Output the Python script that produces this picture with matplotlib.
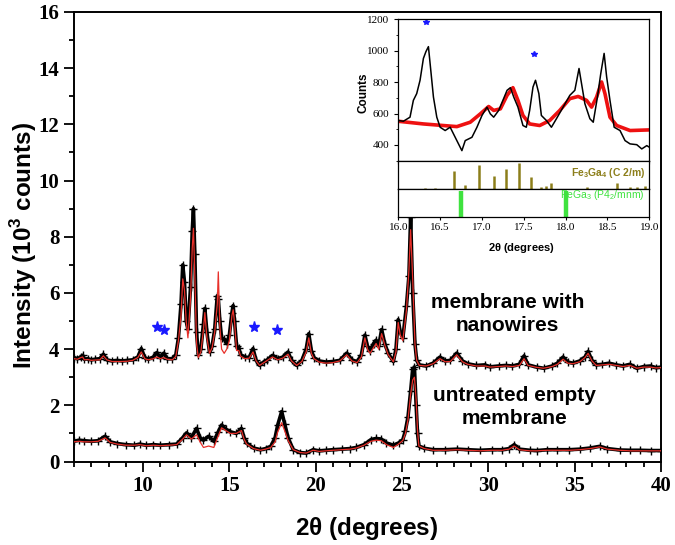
import numpy as np
import matplotlib
matplotlib.use('Agg')
import matplotlib.pyplot as plt
from matplotlib.ticker import MultipleLocator, FormatStrFormatter

# main pattern: membrane with nanowires (obs / fit), 10^3 counts
two_theta_nw = [6.0, 6.2, 6.4, 6.5, 6.6, 6.8, 7.0, 7.2, 7.5, 7.7, 7.9, 8.2, 8.5, 8.8, 9.1, 9.4, 9.7, 9.9,
                10.1, 10.3, 10.6, 10.8, 11.0, 11.2, 11.4, 11.7, 11.9, 12.05, 12.2, 12.3, 12.4, 12.5, 12.6,
                12.75, 12.85, 12.92, 13.0, 13.1, 13.2, 13.35, 13.5, 13.58, 13.7, 13.85, 14.0, 14.15, 14.3,
                14.36, 14.45, 14.55, 14.7, 14.85, 15.0, 15.15, 15.22, 15.3, 15.42, 15.55, 15.65, 15.9,
                16.15, 16.37, 16.55, 16.75, 17.0, 17.2, 17.5, 17.8, 18.1, 18.4, 18.6, 18.9, 19.2, 19.45,
                19.6, 19.75, 19.9, 20.2, 20.6, 21.0, 21.4, 21.8, 22.1, 22.4, 22.65, 22.85, 23.0, 23.15,
                23.35, 23.5, 23.65, 23.82, 24.0, 24.2, 24.5, 24.65, 24.78, 24.9, 25.05, 25.26, 25.4, 25.5,
                25.62, 25.75, 25.85, 26.0, 26.4, 26.8, 27.2, 27.5, 27.8, 28.17, 28.5, 28.8, 29.3, 29.8,
                30.1, 30.6, 31.0, 31.4, 31.8, 32.07, 32.3, 32.8, 33.2, 33.7, 34.0, 34.33, 34.6, 34.9,
                35.3, 35.6, 35.78, 36.0, 36.25, 36.6, 37.0, 37.4, 37.8, 38.2, 38.6, 39.0, 39.4, 39.7, 40.0]
obs_nw = [3.70, 3.66, 3.72, 3.78, 3.64, 3.66, 3.62, 3.64, 3.66, 3.82, 3.62, 3.58, 3.60, 3.58, 3.60, 3.62, 3.72, 4.02,
          3.70, 3.64, 3.72, 3.88, 3.70, 3.86, 3.66, 3.66, 3.80, 4.40, 5.60, 7.00, 6.40, 5.00, 4.70,
          6.20, 8.20, 9.00, 7.40, 4.60, 3.80, 4.00, 4.90, 5.45, 4.60, 3.90, 4.10, 4.70, 5.90,
          5.80, 5.00, 4.40, 4.35, 4.20, 4.50, 5.30, 5.55, 5.00, 4.10, 4.05, 3.80, 3.72,
          3.70, 4.02, 3.60, 3.42, 3.55, 3.62, 3.78, 3.66, 3.72, 3.90, 3.60, 3.42, 3.60, 4.00,
          4.55, 3.95, 3.70, 3.58, 3.54, 3.56, 3.60, 3.86, 3.62, 3.55, 3.80, 4.50, 4.10, 3.92,
          4.20, 4.32, 4.10, 4.70, 4.20, 3.85, 3.56, 4.00, 5.05, 4.60, 4.40, 5.55, 6.60, 8.70,
          6.00, 4.20, 3.60, 3.44, 3.40, 3.50, 3.72, 3.58, 3.60, 3.86, 3.58, 3.48, 3.42, 3.44,
          3.37, 3.40, 3.42, 3.40, 3.46, 3.76, 3.44, 3.36, 3.32, 3.40, 3.50, 3.72, 3.54, 3.50,
          3.58, 3.72, 3.92, 3.60, 3.44, 3.46, 3.50, 3.44, 3.40, 3.46, 3.32, 3.38, 3.40, 3.34, 3.36]
fit_nw = [3.66, 3.64, 3.70, 3.72, 3.62, 3.63, 3.60, 3.61, 3.62, 3.76, 3.62, 3.56, 3.56, 3.56, 3.57, 3.60, 3.70, 3.90,
          3.66, 3.62, 3.66, 3.72, 3.66, 3.70, 3.64, 3.62, 3.74, 4.30, 5.20, 6.50, 6.10, 5.00, 4.40,
          5.80, 7.60, 8.30, 6.60, 4.20, 3.70, 3.90, 4.70, 5.30, 4.40, 3.85, 4.05, 4.60, 5.60,
          6.75, 4.80, 4.00, 3.85, 4.00, 4.30, 5.20, 5.40, 4.95, 3.95, 3.95, 3.75, 3.66,
          3.68, 3.90, 3.58, 3.42, 3.52, 3.60, 3.72, 3.62, 3.68, 3.82, 3.58, 3.42, 3.56, 3.90,
          4.40, 3.85, 3.66, 3.54, 3.50, 3.52, 3.58, 3.80, 3.58, 3.52, 3.72, 4.40, 4.00, 3.85,
          4.05, 4.20, 4.00, 4.55, 4.15, 3.80, 3.55, 3.90, 4.95, 4.50, 4.30, 5.40, 6.80, 8.25,
          6.50, 4.20, 3.60, 3.42, 3.40, 3.48, 3.66, 3.55, 3.56, 3.80, 3.55, 3.46, 3.40, 3.40,
          3.36, 3.38, 3.40, 3.38, 3.42, 3.66, 3.42, 3.35, 3.32, 3.38, 3.46, 3.64, 3.50, 3.48,
          3.55, 3.70, 3.85, 3.58, 3.42, 3.44, 3.46, 3.42, 3.38, 3.42, 3.32, 3.36, 3.36, 3.33, 3.34]

# main pattern: untreated empty membrane (obs / fit)
two_theta_em = [6.0, 6.3, 6.6, 7.0, 7.4, 7.8, 8.1, 8.5, 9.0, 9.5, 9.8, 10.2, 10.6, 11.0, 11.5, 11.95,
                12.3, 12.52, 12.8, 13.1, 13.3, 13.5, 13.8, 14.1, 14.35, 14.55, 14.8, 15.05, 15.4, 15.7,
                15.85, 16.0, 16.4, 16.8, 17.1, 17.4, 17.65, 17.8, 18.03, 18.2, 18.4, 18.7, 19.1, 19.45,
                19.85, 20.2, 20.6, 21.0, 21.5, 22.0, 22.35, 22.8, 23.2, 23.5, 23.8, 24.1, 24.5, 24.8,
                25.05, 25.2, 25.35, 25.5, 25.62, 25.72, 25.82, 25.9, 25.98, 26.3, 26.8, 27.5, 28.2,
                28.8, 29.5, 30.2, 30.8, 31.2, 31.5, 31.8, 32.4, 32.8, 33.4, 34.0, 34.7, 35.3, 35.9,
                36.45, 36.9, 37.6, 38.2, 38.8, 39.4, 40.0]
obs_em = [0.72, 0.76, 0.74, 0.72, 0.74, 0.90, 0.70, 0.64, 0.60, 0.58, 0.62, 0.58, 0.60, 0.58, 0.60, 0.62,
          0.85, 1.02, 0.85, 1.18, 0.85, 0.76, 0.90, 0.72, 1.05, 1.30, 1.15, 1.06, 1.00, 1.18,
          0.85, 0.65, 0.48, 0.42, 0.46, 0.54, 0.85, 1.30, 1.78, 1.35, 0.85, 0.42, 0.32, 0.30,
          0.42, 0.38, 0.40, 0.42, 0.44, 0.46, 0.50, 0.60, 0.78, 0.82, 0.80, 0.66, 0.58, 0.66,
          0.78, 1.10, 1.60, 2.50, 3.30, 3.35, 2.00, 1.00, 0.55, 0.47, 0.42, 0.42, 0.44,
          0.42, 0.40, 0.42, 0.42, 0.46, 0.60, 0.44, 0.40, 0.39, 0.42, 0.42, 0.42, 0.44, 0.48,
          0.54, 0.46, 0.41, 0.40, 0.40, 0.39, 0.39]
fit_em = [0.70, 0.72, 0.70, 0.70, 0.72, 0.84, 0.68, 0.62, 0.58, 0.58, 0.60, 0.56, 0.58, 0.56, 0.58, 0.60,
          0.80, 0.95, 0.80, 0.95, 0.70, 0.50, 0.55, 0.50, 0.90, 1.20, 1.10, 1.00, 1.00, 1.10,
          0.80, 0.62, 0.46, 0.40, 0.44, 0.50, 0.70, 1.05, 1.38, 1.10, 0.75, 0.42, 0.32, 0.30,
          0.40, 0.36, 0.38, 0.40, 0.42, 0.44, 0.48, 0.58, 0.72, 0.76, 0.74, 0.60, 0.50, 0.62,
          0.75, 1.00, 1.50, 2.40, 2.90, 3.00, 2.20, 1.10, 0.55, 0.46, 0.40, 0.40, 0.42,
          0.40, 0.38, 0.40, 0.40, 0.44, 0.55, 0.42, 0.38, 0.38, 0.40, 0.40, 0.40, 0.42, 0.46,
          0.52, 0.44, 0.40, 0.38, 0.38, 0.38, 0.38]

# unidentified peaks marked with stars
star_x = [10.8, 11.2, 16.45, 17.75]
star_y = [4.80, 4.68, 4.80, 4.68]

# inset: zoom 16-19 deg, counts
inset_x_obs = [16.0, 16.06, 16.14, 16.18, 16.22, 16.26, 16.3, 16.33, 16.36, 16.39, 16.42, 16.46, 16.5, 16.56,
               16.62, 16.68, 16.76, 16.8, 16.88, 16.94, 17.0, 17.06, 17.1, 17.14, 17.2, 17.25, 17.3, 17.34,
               17.38, 17.43, 17.49, 17.53, 17.57, 17.61, 17.64, 17.68, 17.71, 17.77, 17.83, 17.89, 17.97,
               18.05, 18.11, 18.16, 18.19, 18.23, 18.29, 18.33, 18.38, 18.42, 18.46, 18.49, 18.53, 18.58,
               18.65, 18.71, 18.77, 18.85, 18.91, 18.97, 19.0]
inset_obs = [556, 551, 577, 684, 727, 812, 951, 994, 1026, 866, 705, 577, 513, 492,
             513, 449, 364, 428, 449, 513, 588, 641, 598, 577, 620, 684, 748, 765,
             705, 641, 524, 513, 620, 769, 812, 727, 588, 556, 513, 567, 641,
             716, 748, 887, 791, 663, 567, 545, 705, 855, 983, 834, 684, 513,
             492, 428, 407, 402, 375, 396, 386]
inset_x_fit = [16.0, 16.3, 16.7, 16.86, 16.98, 17.08, 17.14, 17.22, 17.3, 17.37, 17.43, 17.49, 17.57, 17.69,
               17.81, 17.93, 18.05, 18.15, 18.25, 18.31, 18.37, 18.43, 18.47, 18.53, 18.61, 18.77, 19.0]
inset_fit = [551, 534, 517, 545, 598, 645, 620, 630, 716, 765, 684, 588, 534, 524,
             556, 620, 695, 709, 684, 641, 705, 801, 727, 577, 524, 492, 496]
inset_star_x = [16.33, 17.62]
inset_star_y = [1180, 977]

# reference reflections (relative intensity)
fe3ga4_pos = [16.32, 16.44, 16.66, 16.8, 16.97, 17.14, 17.29, 17.44, 17.59, 17.71, 17.77, 17.83, 18.25, 18.61,
              18.77, 18.85, 18.95]
fe3ga4_int = [0.03, 0.05, 0.65, 0.14, 0.85, 0.47, 0.69, 0.93, 0.44, 0.08, 0.10, 0.20, 0.06, 0.22,
              0.06, 0.06, 0.10]
fega3_pos = [16.75, 18.0]
fega3_int = [0.94, 0.94]

olive = '#8c7e1a'
green = '#3fe23f'

plt.rcParams['mathtext.fontset'] = 'custom'
plt.rcParams['mathtext.rm'] = 'Liberation Sans'
plt.rcParams['mathtext.bf'] = 'Liberation Sans:bold'

fig = plt.figure(figsize=(6.75, 5.45), dpi=100)
ax = fig.add_axes([0.1096, 0.1532, 0.8696, 0.8248])

ax.plot(two_theta_nw, obs_nw, color='k', lw=2.6, marker='+', ms=6, mew=1.0, zorder=2)
ax.plot(two_theta_nw, fit_nw, color='#e8302a', lw=0.9, zorder=3)
ax.plot(two_theta_em, obs_em, color='k', lw=2.6, marker='+', ms=6, mew=1.0, zorder=2)
ax.plot(two_theta_em, fit_em, color='#e8302a', lw=0.9, zorder=3)
ax.plot(star_x, star_y, ls='none', marker='*', ms=8, color='#1a1aff', zorder=4)

ax.set_xlim(6, 40)
ax.set_ylim(0, 16)
ax.xaxis.set_major_locator(MultipleLocator(5))
ax.xaxis.set_minor_locator(MultipleLocator(1))
ax.yaxis.set_major_locator(MultipleLocator(2))
ax.yaxis.set_minor_locator(MultipleLocator(1))
ax.tick_params(which='major', direction='out', length=7, width=1.3)
ax.tick_params(which='minor', direction='out', length=3.5, width=1.3)
for lab in ax.get_xticklabels() + ax.get_yticklabels():
	lab.set_fontfamily('Liberation Serif')
	lab.set_fontweight('bold')
	lab.set_fontsize(15)
for sp in ax.spines.values():
	sp.set_linewidth(1.4)

ax.set_xlabel(r'2$\mathbf{\theta}$ (degrees)', fontfamily='Liberation Sans', fontweight='bold', fontsize=17.5)
ax.set_ylabel(r'Intensity (10$^\mathbf{3}$ counts)', fontfamily='Liberation Sans', fontweight='bold', fontsize=17.5)
ax.xaxis.set_label_coords(0.499, -0.118)
ax.yaxis.set_label_coords(-0.06, 0.48)

ax.text(31.1, 5.25, 'membrane with\nnanowires', ha='center', va='center', fontsize=15,
        fontfamily='Liberation Sans', fontweight='bold', linespacing=1.25)
ax.text(31.5, 1.95, 'untreated empty\nmembrane', ha='center', va='center', fontsize=15,
        fontfamily='Liberation Sans', fontweight='bold', linespacing=1.25)

# inset panels
l, w = 398.3 / 675, 251 / 675
ax_top = fig.add_axes([l, (545 - 160.7) / 545, w, 141.4 / 545])
ax_mid = fig.add_axes([l, (545 - 189) / 545, w, 28.3 / 545])
ax_bot = fig.add_axes([l, (545 - 217.3) / 545, w, 28.3 / 545])

ax_top.plot(inset_x_fit, inset_fit, color='#ee1111', lw=2.6)
ax_top.plot(inset_x_obs, inset_obs, color='k', lw=1.1)
ax_top.plot(inset_star_x, inset_star_y, ls='none', marker='*', ms=4, color='#1a1aff')
ax_top.set_xlim(16, 19)
ax_top.set_ylim(300, 1200)
ax_top.yaxis.set_major_locator(MultipleLocator(200))
ax_top.yaxis.set_minor_locator(MultipleLocator(100))
ax_top.xaxis.set_major_locator(MultipleLocator(0.5))
ax_top.xaxis.set_minor_locator(MultipleLocator(0.25))
ax_top.set_yticks([400, 600, 800, 1000, 1200])
ax_top.tick_params(axis='x', which='both', direction='out', length=2.5, labelbottom=False)
ax_top.tick_params(axis='y', which='major', direction='out', length=3, labelsize=8)
ax_top.tick_params(axis='y', which='minor', direction='out', length=1.8)
for lab in ax_top.get_yticklabels():
	lab.set_fontfamily('Liberation Serif')
ax_top.set_ylabel('Counts', fontfamily='Liberation Sans', fontweight='bold', fontsize=8.5)
ax_top.yaxis.set_label_coords(-0.115, 0.48)

ax_mid.vlines(fe3ga4_pos, 0, fe3ga4_int, color=olive, lw=1.8)
ax_mid.set_xlim(16, 19)
ax_mid.set_ylim(0, 1)
ax_mid.set_xticks([])
ax_mid.set_yticks([])
ax_mid.text(18.95, 0.55, r'Fe$_\mathbf{3}$Ga$_\mathbf{4}$ (C 2/m)', color=olive, ha='right', va='center',
            fontsize=7.5, fontfamily='Liberation Sans', fontweight='bold')

ax_bot.vlines(fega3_pos, 0, fega3_int, color=green, lw=3.2)
ax_bot.set_xlim(16, 19)
ax_bot.set_ylim(0, 1)
ax_bot.set_yticks([])
ax_bot.xaxis.set_major_locator(MultipleLocator(0.5))
ax_bot.xaxis.set_major_formatter(FormatStrFormatter('%.1f'))
ax_bot.tick_params(axis='x', direction='out', length=2.5, labelsize=8, pad=1.5)
for lab in ax_bot.get_xticklabels():
	lab.set_fontfamily('Liberation Serif')
ax_bot.text(18.95, 0.8, r'FeGa$_3$ (P4$_2$/mnm)', color=green, ha='right', va='center',
            fontsize=7.5, fontfamily='Liberation Sans')
ax_bot.set_xlabel(r'2$\mathbf{\theta}$ (degrees)', fontfamily='Liberation Sans', fontweight='bold', fontsize=8)
ax_bot.xaxis.set_label_coords(0.49, -0.84)

for a in (ax_top, ax_mid, ax_bot):
	for sp in a.spines.values():
		sp.set_linewidth(0.9)

fig.savefig('out.png', dpi=100)
